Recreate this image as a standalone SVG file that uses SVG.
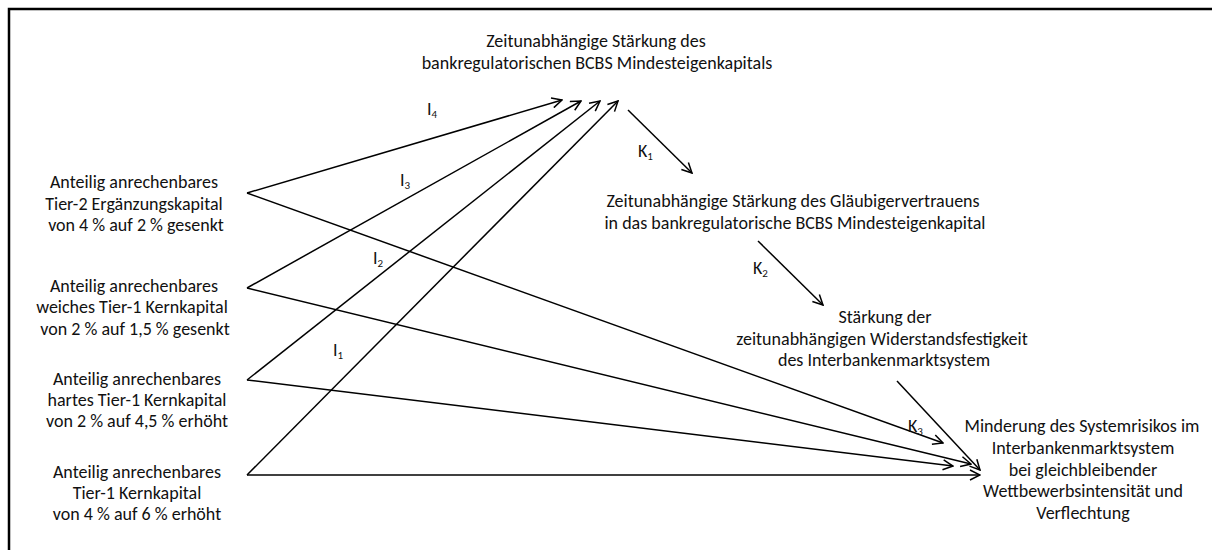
<svg xmlns="http://www.w3.org/2000/svg" width="1212" height="550" viewBox="0 0 1212 550">
  <style>
    text { font-family: Carlito, Lato, "Liberation Sans", sans-serif; font-size: 18px; fill: #111; text-anchor: middle; }
    .lbl { text-anchor: start; }
    .sub { font-size: 11px; }
    .edge { stroke: #000; stroke-width: 1.5; fill: none; marker-end: url(#arrow); }
  </style>
  <defs>
    <marker id="arrow" viewBox="0 0 12 12" refX="11" refY="6" markerWidth="12" markerHeight="12" markerUnits="userSpaceOnUse" orient="auto">
      <polyline points="1,1 11,6 1,11" fill="none" stroke="#000" stroke-width="1.5"/>
    </marker>
  </defs>
  <rect width="1212" height="550" fill="#fff"/>
  <!-- outer frame (open at right and bottom) -->
  <path d="M9 550 V9 H1212" fill="none" stroke="#000" stroke-width="2.5"/>

  <g id="connectors">
    <line class="edge" x1="247" y1="193" x2="562" y2="100"/>
    <line class="edge" x1="247" y1="288" x2="581" y2="101"/>
    <line class="edge" x1="247" y1="380" x2="600" y2="101"/>
    <line class="edge" x1="247" y1="475" x2="618" y2="101"/>
    <line class="edge" x1="247" y1="193" x2="943" y2="443"/>
    <line class="edge" x1="247" y1="288" x2="971" y2="464"/>
    <line class="edge" x1="247" y1="380" x2="953" y2="466"/>
    <line class="edge" x1="247" y1="475" x2="980" y2="475"/>
    <line class="edge" x1="628" y1="110" x2="692" y2="173"/>
    <line class="edge" x1="758" y1="241" x2="823" y2="305"/>
    <line class="edge" x1="897" y1="381" x2="980" y2="470"/>
    <text class="lbl" x="427" y="115">I<tspan class="sub" dy="3">4</tspan></text>
    <text class="lbl" x="400" y="186">I<tspan class="sub" dy="3">3</tspan></text>
    <text class="lbl" x="373" y="264">I<tspan class="sub" dy="3">2</tspan></text>
    <text class="lbl" x="333" y="356">I<tspan class="sub" dy="3">1</tspan></text>
    <text class="lbl" x="638" y="157">K<tspan class="sub" dy="3">1</tspan></text>
    <text class="lbl" x="753" y="274">K<tspan class="sub" dy="3">2</tspan></text>
    <text class="lbl" x="908" y="432">K<tspan class="sub" dy="3">3</tspan></text>
  </g>

  <g id="node-bcbs">
    <text x="596" y="47">Zeitunabhängige Stärkung des</text>
    <text x="597" y="69">bankregulatorischen BCBS Mindesteigenkapitals</text>
  </g>
  <g id="node-tier2">
    <text x="134" y="188">Anteilig anrechenbares</text>
    <text x="134" y="210">Tier-2 Ergänzungskapital</text>
    <text x="136" y="231">von 4 % auf 2 % gesenkt</text>
  </g>
  <g id="node-soft-tier1">
    <text x="134" y="292">Anteilig anrechenbares</text>
    <text x="132" y="313">weiches Tier-1 Kernkapital</text>
    <text x="135" y="335">von 2 % auf 1,5 % gesenkt</text>
  </g>
  <g id="node-hard-tier1">
    <text x="137" y="385">Anteilig anrechenbares</text>
    <text x="137" y="406">hartes Tier-1 Kernkapital</text>
    <text x="137" y="427">von 2 % auf 4,5 % erhöht</text>
  </g>
  <g id="node-tier1">
    <text x="137" y="478">Anteilig anrechenbares</text>
    <text x="137" y="499">Tier-1 Kernkapital</text>
    <text x="137" y="520">von 4 % auf 6 % erhöht</text>
  </g>
  <g id="node-creditor-trust">
    <text x="793" y="207">Zeitunabhängige Stärkung des Gläubigervertrauens</text>
    <text x="795" y="229">in das bankregulatorische BCBS Mindesteigenkapital</text>
  </g>
  <g id="node-resilience">
    <text x="885" y="323">Stärkung der</text>
    <text x="882" y="345">zeitunabhängigen Widerstandsfestigkeit</text>
    <text x="884" y="366">des Interbankenmarktsystem</text>
  </g>
  <g id="node-systemic-risk">
    <text x="1082" y="432">Minderung des Systemrisikos im</text>
    <text x="1083" y="454">Interbankenmarktsystem</text>
    <text x="1083" y="476">bei gleichbleibender</text>
    <text x="1083" y="497">Wettbewerbsintensität und</text>
    <text x="1083" y="519">Verflechtung</text>
  </g>
</svg>
